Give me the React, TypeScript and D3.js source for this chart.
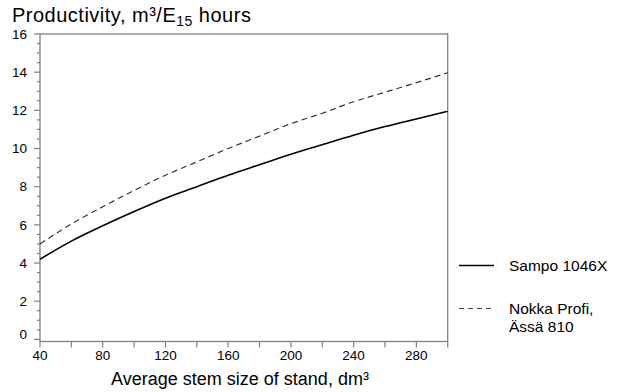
import React, { useEffect, useRef } from 'react';
import * as d3 from 'd3';

// stem size of stand, dm3
const stemSize = [40, 60, 80, 100, 120, 140, 160, 180, 200, 220, 240, 260, 280, 300];
// productivity, m3 per E15 hour
const sampo = [4.2, 5.15, 5.95, 6.7, 7.4, 8.0, 8.6, 9.15, 9.7, 10.2, 10.7, 11.15, 11.55, 11.95];
const nokka = [5.0, 6.05, 6.95, 7.8, 8.6, 9.3, 10.0, 10.65, 11.3, 11.85, 12.45, 12.95, 13.45, 13.97];

const xTicks = [40, 80, 120, 160, 200, 240, 280];
const yTicks = [0, 2, 4, 6, 8, 10, 12, 14, 16];

const FONT = 'Arial, "Liberation Sans", sans-serif';

export default function App() {
  const ref = useRef<SVGSVGElement | null>(null);

  useEffect(() => {
    const svg = d3.select(ref.current);
    svg.selectAll('*').remove();

    const left = 40, right = 447.7, top = 34, bottom = 341.5;
    const x = d3.scaleLinear().domain([40, 300]).range([left, right]);
    const y = d3.scaleLinear().domain([-0.11, 16]).range([bottom, top]);
    const axisColor = '#808080';

    // frame
    svg.append('rect')
      .attr('x', left).attr('y', top)
      .attr('width', right - left).attr('height', bottom - top)
      .attr('fill', 'none').attr('stroke', axisColor).attr('stroke-width', 1.3);

    // y ticks
    const yMinor = d3.range(0, 16.01, 0.5);
    svg.append('g').selectAll('line')
      .data(yMinor)
      .enter().append('line')
      .attr('x1', (d) => (d % 2 === 0 ? left - 6 : left - 3))
      .attr('x2', left)
      .attr('y1', (d) => y(d)).attr('y2', (d) => y(d))
      .attr('stroke', axisColor).attr('stroke-width', 1.2);

    svg.append('g').selectAll('text')
      .data(yTicks)
      .enter().append('text')
      .attr('x', 27)
      .attr('y', (d) => (d === 0 ? y(d) - 5 : y(d)))
      .attr('dy', '0.35em')
      .attr('text-anchor', 'end')
      .attr('font-family', FONT).attr('font-size', 13.5)
      .text((d) => d);

    // x ticks
    const xMinor = d3.range(40, 300.1, 20);
    svg.append('g').selectAll('line')
      .data(xMinor)
      .enter().append('line')
      .attr('x1', (d) => x(d)).attr('x2', (d) => x(d))
      .attr('y1', bottom).attr('y2', bottom + 6)
      .attr('stroke', axisColor).attr('stroke-width', 1.2);

    svg.append('g').selectAll('text')
      .data(xTicks)
      .enter().append('text')
      .attr('x', (d) => x(d))
      .attr('y', 360)
      .attr('text-anchor', 'middle')
      .attr('font-family', FONT).attr('font-size', 13.5)
      .text((d) => d);

    const line = d3.line<number>()
      .x((d, i) => x(stemSize[i]))
      .y((d) => y(d))
      .curve(d3.curveMonotoneX);

    svg.append('path')
      .attr('d', line(nokka))
      .attr('fill', 'none').attr('stroke', '#333').attr('stroke-width', 1.2)
      .attr('stroke-dasharray', '6,4');

    svg.append('path')
      .attr('d', line(sampo))
      .attr('fill', 'none').attr('stroke', '#000').attr('stroke-width', 1.6);

    // titles
    const title = svg.append('text')
      .attr('x', 12).attr('y', 22)
      .attr('font-family', FONT).attr('font-size', 20)
      .attr('letter-spacing', 0.5);
    title.append('tspan').text('Productivity, m³/E');
    title.append('tspan').attr('font-size', 14).attr('dy', 4).text('15');
    title.append('tspan').attr('dy', -4).text(' hours');

    svg.append('text')
      .attr('x', 240).attr('y', 385)
      .attr('text-anchor', 'middle')
      .attr('font-family', FONT).attr('font-size', 18)
      .text('Average stem size of stand, dm³');

    // legend
    const lg = svg.append('g').attr('font-family', FONT).attr('font-size', 15.5);
    lg.append('line')
      .attr('x1', 459).attr('x2', 494).attr('y1', 265.5).attr('y2', 265.5)
      .attr('stroke', '#000').attr('stroke-width', 1.6);
    lg.append('text').attr('x', 509).attr('y', 271).text('Sampo 1046X');
    lg.append('line')
      .attr('x1', 459).attr('x2', 491).attr('y1', 308.5).attr('y2', 308.5)
      .attr('stroke', '#444').attr('stroke-width', 1.2)
      .attr('stroke-dasharray', '5,4');
    lg.append('text').attr('x', 509).attr('y', 314).text('Nokka Profi,');
    lg.append('text').attr('x', 509).attr('y', 332).text('Ässä 810');
  }, []);

  return (
    <svg
      ref={ref}
      width={642}
      height={392}
      style={{ position: 'absolute', left: 0, top: 0, background: '#fff' }}
    />
  );
}
